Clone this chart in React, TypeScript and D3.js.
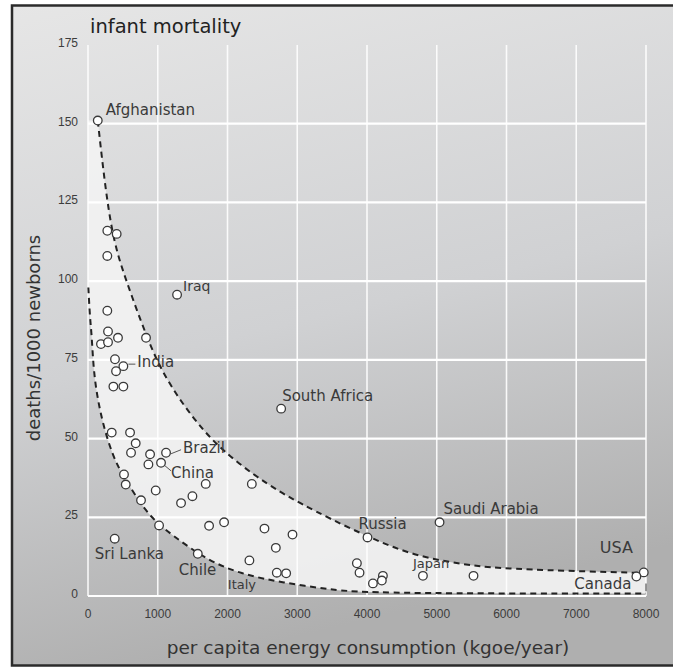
import React from "react";
import * as d3 from "d3";

const W = 673;
const H = 668;

const xTicks = [0, 1000, 2000, 3000, 4000, 5000, 6000, 7000, 8000];
const yTicks = [0, 25, 50, 75, 100, 125, 150, 175];
const yGrid = [0, 25, 50, 75, 100, 125, 150];

// energy consumption (kgoe/year), infant deaths per 1000, country label
const energy = [140, 277, 411, 277, 1277, 277, 287, 186, 287, 430, 832,
  387, 507, 402, 364, 507,
  340, 603, 684, 617, 890, 1119, 866, 1047, 516, 541, 760, 971, 1334, 1497, 1688, 2349,
  1019, 1736, 1951, 2530, 2932, 2693, 383, 1574, 2314, 2707, 2841, 2769,
  3855, 3893, 4085, 4228, 4213, 4007, 4802, 5527, 5040, 7968, 7862];
const mortality = [151, 116, 115, 108, 95.7, 90.6, 84, 80, 80.6, 82, 82,
  75.2, 73, 71.4, 66.5, 66.5,
  51.9, 51.9, 48.5, 45.5, 45, 45.5, 41.8, 42.3, 38.6, 35.4, 30.4, 33.5, 29.5, 31.7, 35.6, 35.6,
  22.4, 22.3, 23.4, 21.4, 19.5, 15.3, 18.2, 13.4, 11.3, 7.4, 7.2, 59.5,
  10.4, 7.4, 4, 6.4, 4.9, 18.6, 6.4, 6.4, 23.4, 7.5, 6.2];
const country = ["Afghanistan", "", "", "", "Iraq", "", "", "", "", "", "",
  "", "India", "", "", "",
  "", "", "", "", "", "Brazil", "", "China", "", "", "", "", "", "", "", "",
  "", "", "", "", "", "", "Sri Lanka", "Chile", "", "Italy", "", "South Africa",
  "", "", "", "", "", "Russia", "Japan", "", "Saudi Arabia", "USA", "Canada"];

// envelope curves of the band
const upperX = [140, 316, 531, 846, 1033, 1320, 1655, 1942, 2372, 2755, 3042, 3472, 4046, 4667, 5384, 5863, 6819, 8000];
const upperY = [151, 116, 101, 82, 72.5, 62, 52.5, 46, 38.5, 33, 29.5, 24.5, 18.5, 12.8, 10, 8.8, 8, 7.3];
const lowerX = [5, 29, 53, 76, 125, 220, 363, 507, 650, 890, 1224, 1703, 2181, 2802, 3472, 4095, 8000];
const lowerY = [98, 88, 83, 73, 64, 54, 44, 38, 33, 25, 19, 11.5, 7, 4.2, 2, 0.8, 0.8];

const labelLayout: Record<string, { dx: number; dy: number; size?: number; leader?: number[] }> = {
  Afghanistan: { dx: 8, dy: -6 },
  Iraq: { dx: 6, dy: -4, size: 14 },
  India: { dx: 14, dy: 1, leader: [5, -2, 12, -2] },
  "South Africa": { dx: 1, dy: -8 },
  Brazil: { dx: 17, dy: 0, leader: [5, 1, 15, -3] },
  China: { dx: 10, dy: 15, leader: [4, 3, 10, 8] },
  "Sri Lanka": { dx: -20, dy: 20 },
  Chile: { dx: -19, dy: 21 },
  Italy: { dx: -49, dy: 16, size: 13 },
  Russia: { dx: -9, dy: -8 },
  "Saudi Arabia": { dx: 4, dy: -8 },
  Japan: { dx: -10, dy: -8, size: 13 },
  USA: { dx: -44, dy: -19, size: 16 },
  Canada: { dx: -62, dy: 13 },
};

const FONT = "'DejaVu Sans', sans-serif";

export default function App() {
  const x = d3.scaleLinear().domain([0, 8000]).range([88, 646]);
  const y = d3.scaleLinear().domain([0, 175]).range([596, 45]);

  const upper = upperX.map((v, i) => [v, upperY[i]] as [number, number]);
  const lower = lowerX.map((v, i) => [v, lowerY[i]] as [number, number]);

  const line = d3
    .line<[number, number]>()
    .x((d) => x(d[0]))
    .y((d) => y(d[1]))
    .curve(d3.curveBasis);

  const upperPath = line(upper) || "";
  const lowerPath = line(lower) || "";
  const lowerRev = line([...lower].reverse()) || "";
  const bandPath =
    `M${x(0)},${y(upper[0][1])}` +
    upperPath.replace(/^M/, "L") +
    `L${x(8000)},${y(0.8)}` +
    lowerRev.replace(/^M/, "L") +
    `L${x(0)},${y(lower[0][1])}Z`;

  return (
    <svg width={W} height={H} style={{ position: "absolute", left: 0, top: 0 }}>
      <defs>
        <linearGradient id="bg" x1="0" y1="0" x2="0.25" y2="1">
          <stop offset="0" stopColor="#e6e6e6" />
          <stop offset="0.55" stopColor="#d0d1d3" />
          <stop offset="1" stopColor="#afafaf" />
        </linearGradient>
      </defs>
      <rect x={0} y={0} width={W} height={H} fill="#ffffff" />
      <rect x={12} y={5.5} width={W} height={660} fill="url(#bg)" stroke="#2b2b2b" strokeWidth={2.5} />

      {/* band */}
      <path d={bandPath} fill="#f2f2f2" opacity={0.92} />

      {/* grid */}
      {xTicks.map((t) => (
        <line key={"gx" + t} x1={x(t)} x2={x(t)} y1={y(175)} y2={y(0)} stroke="#ffffff" strokeWidth={1.6} opacity={0.9} />
      ))}
      {yGrid.map((t) => (
        <line key={"gy" + t} x1={x(0)} x2={x(8000)} y1={y(t)} y2={y(t)} stroke="#ffffff" strokeWidth={2.2} />
      ))}

      {/* dashed envelopes */}
      <path d={upperPath} fill="none" stroke="#222" strokeWidth={2} strokeDasharray="6,4.5" />
      <path d={lowerPath} fill="none" stroke="#222" strokeWidth={2} strokeDasharray="6,4.5" />
      <line x1={x(8000)} x2={x(8000)} y1={y(4)} y2={y(1.5)} stroke="#555" strokeWidth={1.2} />

      {/* tick labels */}
      {yTicks.map((t) => (
        <text key={"ty" + t} x={78} y={y(t) + 2} textAnchor="end" fontFamily="'Liberation Sans', sans-serif" fontSize={12} fill="#3c3c3c">
          {t}
        </text>
      ))}
      {xTicks.map((t) => (
        <text key={"tx" + t} x={x(t)} y={618} textAnchor="middle" fontFamily="'Liberation Sans', sans-serif" fontSize={12} fill="#3c3c3c">
          {t}
        </text>
      ))}

      {/* leaders */}
      {country.map((c, i) => {
        const L = c ? labelLayout[c] : undefined;
        if (!L || !L.leader) return null;
        const px = x(energy[i]);
        const py = y(mortality[i]);
        return (
          <line key={"ld" + i} x1={px + L.leader[0]} y1={py + L.leader[1]} x2={px + L.leader[2]} y2={py + L.leader[3]} stroke="#555" strokeWidth={1} />
        );
      })}

      {/* points */}
      {energy.map((e, i) => (
        <circle key={"p" + i} cx={x(e)} cy={y(mortality[i])} r={4.3} fill="#ffffff" stroke="#3a3a3a" strokeWidth={1.3} />
      ))}

      {/* country labels */}
      {country.map((c, i) => {
        if (!c) return null;
        const L = labelLayout[c];
        return (
          <text key={"lb" + i} x={x(energy[i]) + L.dx} y={y(mortality[i]) + L.dy} fontFamily={FONT} fontSize={L.size || 15} fill="#3a3a3a">
            {c}
          </text>
        );
      })}

      {/* titles */}
      <text x={90} y={33} fontFamily={FONT} fontSize={19.5} fill="#222">infant mortality</text>
      <text x={368} y={654} textAnchor="middle" fontFamily={FONT} fontSize={18.5} fill="#333">
        per capita energy consumption (kgoe/year)
      </text>
      <text transform={`translate(40,338) rotate(-90)`} textAnchor="middle" fontFamily={FONT} fontSize={18} fill="#333">
        deaths/1000 newborns
      </text>
    </svg>
  );
}
